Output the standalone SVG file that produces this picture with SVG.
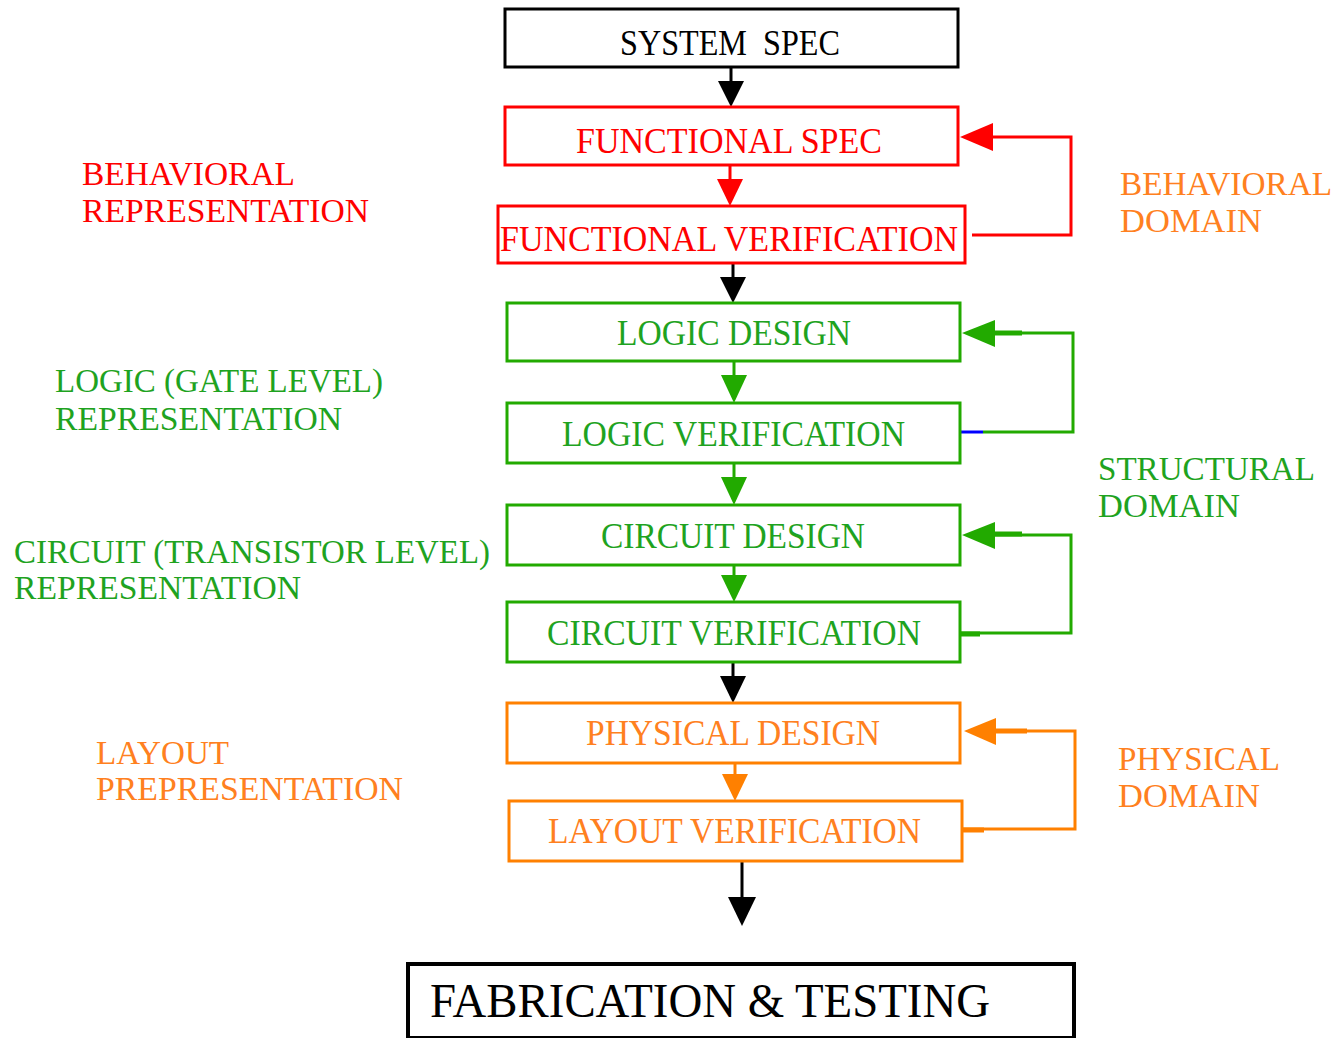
<svg xmlns="http://www.w3.org/2000/svg" width="1337" height="1038" viewBox="0 0 1337 1038">
<style>
text{font-family:"Liberation Serif","Times New Roman",serif;}
.lbl{font-size:36px;text-anchor:start;}
.side{font-size:34px;}
.box{fill:#fff;stroke-width:3;}
.blk{stroke:#000;} .red{stroke:#ff0000;} .grn{stroke:#22aa00;} .org{stroke:#ff8000;}
.tblk{fill:#000;} .tred{fill:#ff0000;} .tgrn{fill:#1fa31f;} .torg{fill:#ff8020;}
.ln{fill:none;stroke-width:3;}
</style>
<rect width="1337" height="1038" fill="#fff"/>
<g id="connectors">
  <line class="ln blk" x1="731" y1="67" x2="731" y2="84"/>
  <polygon points="718,81 744,81 731,107" fill="#000"/>
  <line class="ln red" x1="730" y1="165" x2="730" y2="182"/>
  <polygon points="717,179 743,179 730,206" fill="#ff0000"/>
  <line class="ln blk" x1="733" y1="263" x2="733" y2="280"/>
  <polygon points="720,277 746,277 733,303" fill="#000"/>
  <line class="ln grn" x1="734" y1="361" x2="734" y2="378"/>
  <polygon points="721,375 747,375 734,403" fill="#22aa00"/>
  <line class="ln grn" x1="734" y1="463" x2="734" y2="480"/>
  <polygon points="721,477 747,477 734,505" fill="#22aa00"/>
  <line class="ln grn" x1="734" y1="565" x2="734" y2="578"/>
  <polygon points="721,575 747,575 734,602" fill="#22aa00"/>
  <line class="ln blk" x1="733" y1="662" x2="733" y2="679"/>
  <polygon points="720,676 746,676 733,703" fill="#000"/>
  <line class="ln org" x1="735" y1="763" x2="735" y2="777"/>
  <polygon points="722,774 748,774 735,801" fill="#ff8000"/>
  <line class="ln blk" x1="742" y1="861" x2="742" y2="900"/>
  <polygon points="728,897 756,897 742,926" fill="#000"/>
  <polyline class="ln red" points="972,235 1071,235 1071,137 990,137"/>
  <polygon points="960,137 993,123 993,151" fill="#ff0000"/>
  <line x1="960" y1="432" x2="983" y2="432" stroke="#0000ff" stroke-width="3"/>
  <polyline class="ln grn" points="983,432 1073,432 1073,333 990,333"/>
  <line x1="990" y1="333" x2="1022" y2="333" stroke="#22aa00" stroke-width="5"/>
  <polygon points="962,333 995,320 995,347" fill="#22aa00"/>
  <polyline class="ln grn" points="957,633 1071,633 1071,535 990,535"/>
  <line x1="957" y1="634" x2="980" y2="634" stroke="#22aa00" stroke-width="5"/>
  <line x1="990" y1="534" x2="1022" y2="534" stroke="#22aa00" stroke-width="5"/>
  <polygon points="962,535 995,522 995,549" fill="#22aa00"/>
  <polyline class="ln org" points="962,829 1075,829 1075,731 990,731"/>
  <line x1="962" y1="830" x2="984" y2="830" stroke="#ff8000" stroke-width="5"/>
  <line x1="990" y1="731" x2="1027" y2="731" stroke="#ff8000" stroke-width="5"/>
  <polygon points="964,731 996,718 996,745" fill="#ff8000"/>
</g>
<g id="system-spec">
  <rect class="box blk" x="505" y="9" width="453" height="58"/>
  <text class="lbl tblk" x="620" y="55" textLength="220" lengthAdjust="spacingAndGlyphs" xml:space="preserve">SYSTEM  SPEC</text>
</g>
<g id="functional-spec">
  <rect class="box red" x="505" y="107" width="453" height="58"/>
  <text class="lbl tred" x="576" y="153" textLength="306" lengthAdjust="spacingAndGlyphs">FUNCTIONAL SPEC</text>
</g>
<g id="functional-verification">
  <rect class="box red" x="498" y="206" width="467" height="57"/>
  <text class="lbl tred" x="500" y="251" textLength="458" lengthAdjust="spacingAndGlyphs">FUNCTIONAL VERIFICATION</text>
</g>
<g id="logic-design">
  <rect class="box grn" x="507" y="303" width="453" height="58"/>
  <text class="lbl tgrn" x="617" y="345" textLength="234" lengthAdjust="spacingAndGlyphs">LOGIC DESIGN</text>
</g>
<g id="logic-verification">
  <rect class="box grn" x="507" y="403" width="453" height="60"/>
  <text class="lbl tgrn" x="562" y="446" textLength="343" lengthAdjust="spacingAndGlyphs">LOGIC VERIFICATION</text>
</g>
<g id="circuit-design">
  <rect class="box grn" x="507" y="505" width="453" height="60"/>
  <text class="lbl tgrn" x="601" y="548" textLength="264" lengthAdjust="spacingAndGlyphs">CIRCUIT DESIGN</text>
</g>
<g id="circuit-verification">
  <rect class="box grn" x="507" y="602" width="453" height="60"/>
  <text class="lbl tgrn" x="547" y="645" textLength="374" lengthAdjust="spacingAndGlyphs">CIRCUIT VERIFICATION</text>
</g>
<g id="physical-design">
  <rect class="box org" x="507" y="703" width="453" height="60"/>
  <text class="lbl torg" x="586" y="745" textLength="294" lengthAdjust="spacingAndGlyphs">PHYSICAL DESIGN</text>
</g>
<g id="layout-verification">
  <rect class="box org" x="509" y="801" width="453" height="60"/>
  <text class="lbl torg" x="548" y="843" textLength="373" lengthAdjust="spacingAndGlyphs">LAYOUT VERIFICATION</text>
</g>
<g id="fabrication-testing">
  <rect x="408" y="964" width="666" height="74" fill="#fff" stroke="#000" stroke-width="4"/>
  <text x="430" y="1017" font-size="48" fill="#000" textLength="560" lengthAdjust="spacingAndGlyphs">FABRICATION &amp; TESTING</text>
</g>
<g id="left-labels">
  <text class="side tred" x="82" y="185" textLength="213" lengthAdjust="spacingAndGlyphs">BEHAVIORAL</text>
  <text class="side tred" x="82" y="222" textLength="287" lengthAdjust="spacingAndGlyphs">REPRESENTATION</text>
  <text class="side tgrn" x="55" y="392" textLength="328" lengthAdjust="spacingAndGlyphs">LOGIC (GATE LEVEL)</text>
  <text class="side tgrn" x="55" y="430" textLength="287" lengthAdjust="spacingAndGlyphs">REPRESENTATION</text>
  <text class="side tgrn" x="14" y="563" textLength="476" lengthAdjust="spacingAndGlyphs">CIRCUIT (TRANSISTOR LEVEL)</text>
  <text class="side tgrn" x="14" y="599" textLength="287" lengthAdjust="spacingAndGlyphs">REPRESENTATION</text>
  <text class="side torg" x="96" y="764" textLength="133" lengthAdjust="spacingAndGlyphs">LAYOUT</text>
  <text class="side torg" x="96" y="800" textLength="307" lengthAdjust="spacingAndGlyphs">PREPRESENTATION</text>
</g>
<g id="right-labels">
  <text class="side torg" x="1120" y="195" textLength="212" lengthAdjust="spacingAndGlyphs">BEHAVIORAL</text>
  <text class="side torg" x="1120" y="232" textLength="142" lengthAdjust="spacingAndGlyphs">DOMAIN</text>
  <text class="side tgrn" x="1098" y="480" textLength="217" lengthAdjust="spacingAndGlyphs">STRUCTURAL</text>
  <text class="side tgrn" x="1098" y="517" textLength="142" lengthAdjust="spacingAndGlyphs">DOMAIN</text>
  <text class="side torg" x="1118" y="770" textLength="162" lengthAdjust="spacingAndGlyphs">PHYSICAL</text>
  <text class="side torg" x="1118" y="807" textLength="142" lengthAdjust="spacingAndGlyphs">DOMAIN</text>
</g>
</svg>
